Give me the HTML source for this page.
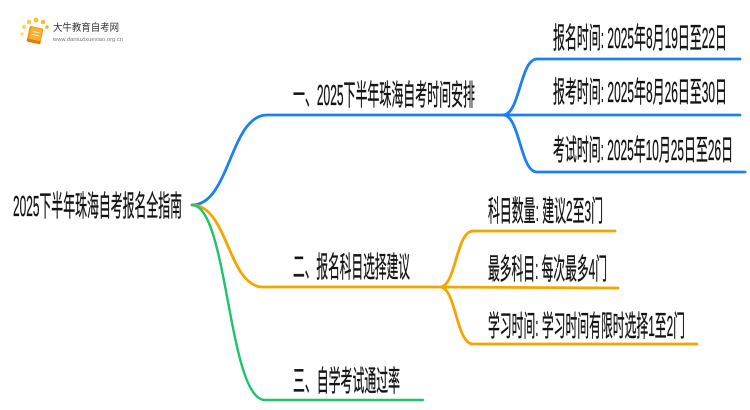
<!DOCTYPE html>
<html>
<head>
<meta charset="utf-8">
<style>
  html, body { margin: 0; padding: 0; background: #ffffff; }
  body { width: 750px; height: 410px; overflow: hidden; }
  svg { display: block; }
  .t { font-family: "Liberation Sans", "Noto Sans CJK SC", sans-serif; font-size: 29px; fill: #141414; stroke: #141414; stroke-width: 0.35px; }
</style>
</head>
<body>
<svg width="750" height="410" viewBox="0 0 750 410" xmlns="http://www.w3.org/2000/svg">
  <!-- Logo -->
  <g>
    <circle cx="22" cy="34" r="1.6" fill="#fbd77a"/>
    <circle cx="24" cy="27" r="2" fill="#fcd36a"/>
    <circle cx="29" cy="22" r="2.2" fill="#fbc94a"/>
    <circle cx="36" cy="20" r="2.4" fill="#f9c13a"/>
    <circle cx="43" cy="22" r="2.2" fill="#f8b82a"/>
    <circle cx="47" cy="27" r="1.8" fill="#f7b020"/>
    <g transform="rotate(12 35 35)">
      <rect x="28" y="27" width="14" height="16" rx="2" fill="#f39a12"/>
      <rect x="30" y="28" width="11" height="12" rx="1.5" fill="#f7b23a"/>
      <rect x="28" y="40" width="14" height="3" rx="1" fill="#e07d06"/>
      <line x1="32" y1="32" x2="39" y2="32" stroke="#fff2cc" stroke-width="0.8"/>
      <line x1="32" y1="35" x2="39" y2="35" stroke="#fff2cc" stroke-width="0.8"/>
    </g>
    <text x="53" y="31" font-family="'Liberation Sans','Noto Sans CJK SC',sans-serif" font-size="10" fill="#333" textLength="66" lengthAdjust="spacingAndGlyphs">大牛教育自考网</text>
    <line x1="53" y1="34" x2="122" y2="34" stroke="#e6e6e6" stroke-width="0.6"/>
    <text x="53" y="41" font-family="'Liberation Sans',sans-serif" font-size="5.5" fill="#777" textLength="70" lengthAdjust="spacingAndGlyphs">www.daniuzixuexiao.org.cn</text>
  </g>

  <!-- Root -->
  <text class="t" x="13" y="216" textLength="169" lengthAdjust="spacingAndGlyphs">2025下半年珠海自考报名全指南</text>

  <!-- Main branch connectors -->
  <g fill="none" stroke-linecap="round">
    <path d="M192 205 C230 205 230 115 267 115 L503 115" stroke="#1b80f2" stroke-width="2.8"/>
    <path d="M192 205 C228 205 228 287 263 287 L440 287" stroke="#f5a500" stroke-width="2.8"/>
    <path d="M192 205 C228 205 228 400 265 400 L423 400" stroke="#1ec46c" stroke-width="2.4"/>

    <!-- Blue children -->
    <path d="M503 115 C520 115 520 59 537 59 L740 59" stroke="#1b80f2" stroke-width="2.8"/>
    <path d="M503 115 L740 115" stroke="#1b80f2" stroke-width="2.8"/>
    <path d="M503 115 C520 115 520 172 537 172 L745 172" stroke="#1b80f2" stroke-width="2.8"/>

    <!-- Orange children -->
    <path d="M440 287 C456 287 456 231 473 231 L615 231" stroke="#f5a500" stroke-width="2.8"/>
    <path d="M440 287 L618 288" stroke="#f5a500" stroke-width="2.8"/>
    <path d="M440 287 C456 287 456 344 473 344 L697 344" stroke="#f5a500" stroke-width="2.8"/>
  </g>

  <!-- Branch labels -->
  <text class="t" x="293" y="105" textLength="182" lengthAdjust="spacingAndGlyphs">一、2025下半年珠海自考时间安排</text>
  <text class="t" x="293" y="277" textLength="117" lengthAdjust="spacingAndGlyphs">二、报名科目选择建议</text>
  <text class="t" x="293" y="391" textLength="107" lengthAdjust="spacingAndGlyphs">三、自学考试通过率</text>

  <!-- Blue child labels -->
  <text class="t" x="553" y="48" textLength="174" lengthAdjust="spacingAndGlyphs">报名时间: 2025年8月19日至22日</text>
  <text class="t" x="553" y="102" textLength="174" lengthAdjust="spacingAndGlyphs">报考时间: 2025年8月26日至30日</text>
  <text class="t" x="553" y="160" textLength="180" lengthAdjust="spacingAndGlyphs">考试时间: 2025年10月25日至26日</text>

  <!-- Orange child labels -->
  <text class="t" x="488" y="221" textLength="115" lengthAdjust="spacingAndGlyphs">科目数量: 建议2至3门</text>
  <text class="t" x="488" y="279" textLength="119" lengthAdjust="spacingAndGlyphs">最多科目: 每次最多4门</text>
  <text class="t" x="488" y="336" textLength="197" lengthAdjust="spacingAndGlyphs">学习时间: 学习时间有限时选择1至2门</text>
</svg>
</body>
</html>
